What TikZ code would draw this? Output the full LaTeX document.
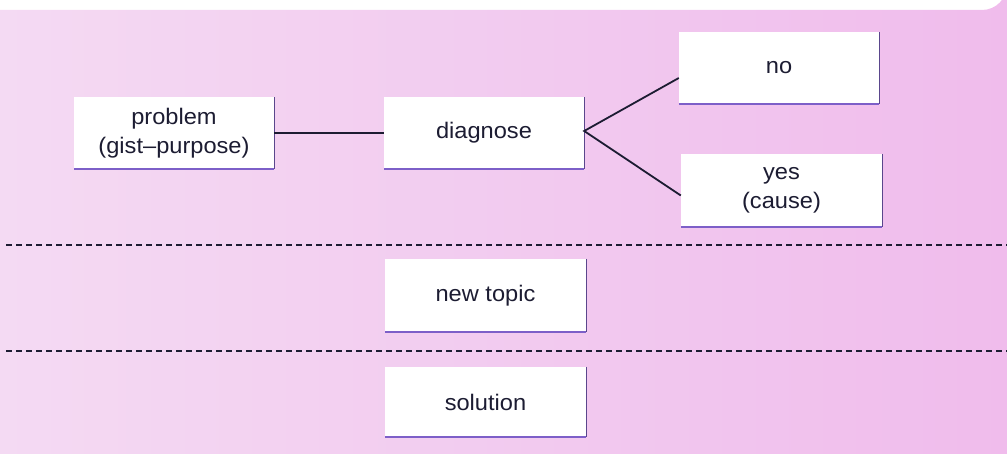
\documentclass[tikz,border=0pt]{standalone}
\usepackage{fontspec}
\setmainfont{Liberation Sans}[FakeStretch=1.05]
\definecolor{bgL}{RGB}{244,218,243}
\definecolor{bgR}{RGB}{240,188,236}
\definecolor{edgeR}{RGB}{90,70,140}
\definecolor{edgeB}{RGB}{125,95,200}
\definecolor{ink}{RGB}{28,28,50}
\begin{document}
\begin{tikzpicture}[x=1pt,y=-1pt,
  boxst/.style={fill=white, draw=none, inner sep=0pt, minimum width=200pt, minimum height=71pt, align=center, text=ink, font=\fontsize{22.5}{29}\selectfont},
  link/.style={draw=ink, line width=1.8pt},
  sep/.style={draw=ink, line width=1.8pt, dash pattern=on 6pt off 4pt},
  rside/.style={draw=edgeR, line width=1.2pt},
  bside/.style={draw=edgeB, line width=2pt}]
\useasboundingbox (0,0) rectangle (1007,454);
\shade[left color=bgL, right color=bgR] (0,10) -- (982,10) arc[start angle=90, end angle=0, radius=25] -- (1007,454) -- (0,454) -- cycle;
\node[boxst] (prob) at (174,133) {problem\\(gist--purpose)};
\node[boxst] (diag) at (484,133) {diagnose};
\node[boxst, minimum height=72pt] (no) at (779,68) {no};
\node[boxst, minimum height=73pt, minimum width=201pt] (yes) at (781.5,190.5) {yes\\(cause)};
\node[boxst, minimum height=73pt, minimum width=201pt] (newt) at (485.5,295.5) {new topic};
\node[boxst, minimum height=70pt, minimum width=201pt] (sol) at (485.5,402) {solution};
\foreach \n in {prob,diag,no,yes,newt,sol}{
  \draw[rside] (\n.north east) -- (\n.south east);
  \draw[bside] (\n.south west) -- (\n.south east);
}
\draw[link] (prob.east) -- (diag.west);
\coordinate (fork) at ([yshift=2pt]diag.east);
\draw[link] ([yshift=-10pt]no.west) -- (fork) -- ([yshift=-5pt]yes.west);
\coordinate (d1a) at (6,245);
\coordinate (d1b) at (1007,245);
\coordinate (d2a) at (6,351);
\coordinate (d2b) at (1007,351);
\draw[sep] (d1a) -- (d1b);
\draw[sep] (d2a) -- (d2b);
\end{tikzpicture}
\end{document}
